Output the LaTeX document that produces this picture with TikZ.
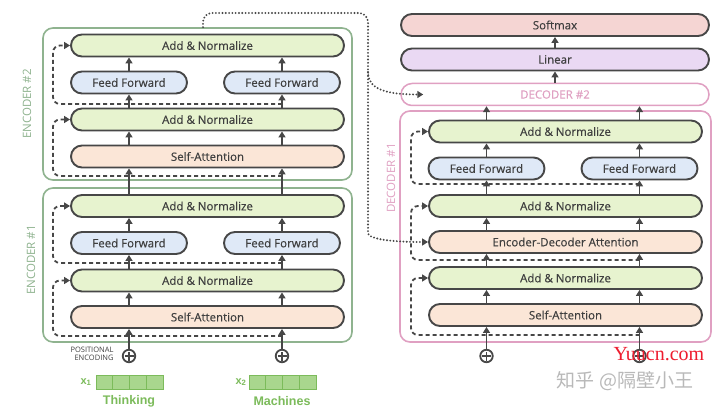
\documentclass[tikz,border=0pt]{standalone}
\usepackage{fontspec}
\setmainfont{Open Sans}
\newfontfamily\boxfont{Open Sans}[FakeBold=0.5]
\newfontfamily\wordfont{Liberation Sans}
\newfontfamily\cjkfont{Noto Sans CJK SC}
\newfontfamily\markfont{Liberation Serif}
\usetikzlibrary{arrows.meta}

\definecolor{linegray}{HTML}{474747}
\definecolor{textgray}{HTML}{3F3F3F}
\definecolor{addgreen}{HTML}{E7F3CF}
\definecolor{ffblue}{HTML}{DFE9F7}
\definecolor{attpeach}{HTML}{FBE6D7}
\definecolor{softpink}{HTML}{F5D5D3}
\definecolor{linpurple}{HTML}{EAD9F3}
\definecolor{encgreen}{HTML}{8FB38F}
\definecolor{decpink}{HTML}{E0A0C2}
\definecolor{wordgreen}{HTML}{7CBB5B}
\definecolor{cellgreen}{HTML}{A9D68E}
\definecolor{markred}{HTML}{EE1C2E}
\definecolor{markgray}{HTML}{B9B9B9}

\tikzset{
  layer/.style={draw=linegray, line width=1.9pt, rounded corners=11pt, minimum height=22pt,
    inner sep=0pt, text=textgray, font=\boxfont\fontsize{11.5}{13}\selectfont},
  addnorm/.style={layer, fill=addgreen, minimum width=273pt},
  ffwd/.style={layer, fill=ffblue, minimum width=116pt},
  selfatt/.style={layer, fill=attpeach, minimum width=273pt},
  encdec/.style={layer, fill=attpeach, minimum width=273pt},
  linear/.style={layer, fill=linpurple, minimum width=308pt},
  softmax/.style={layer, fill=softpink, minimum width=308pt},
  dsecond/.style={layer, draw=decpink, fill=white, line width=1.5pt, minimum width=308pt, text=decpink},
  encframe/.style={draw=encgreen, line width=1.6pt, rounded corners=10pt, inner sep=0pt},
  decframe/.style={draw=decpink, line width=1.6pt, rounded corners=10pt, inner sep=0pt},
  enclabel/.style={rotate=90, text=encgreen, font=\fontsize{11.5}{13}\selectfont},
  declabel/.style={rotate=90, text=decpink, font=\fontsize{11.5}{13}\selectfont},
  posenc/.style={circle, draw=linegray, line width=1.8pt, minimum size=12.5pt, inner sep=0pt, fill=white,
    path picture={\draw[linegray, line width=1.8pt] ([xshift=-4.5pt]path picture bounding box.center) -- ([xshift=4.5pt]path picture bounding box.center)
      ([yshift=-4.5pt]path picture bounding box.center) -- ([yshift=4.5pt]path picture bounding box.center);}},
  pelabel/.style={align=right, text=textgray, font=\fontsize{7.5}{8.5}\selectfont},
  xlabel/.style={text=wordgreen, font=\wordfont\bfseries\fontsize{11}{12}\selectfont},
  cell/.style={draw=wordgreen, fill=cellgreen, line width=0.9pt, minimum width=16.75pt, minimum height=14pt, inner sep=0pt},
  word/.style={text=wordgreen, font=\wordfont\bfseries\fontsize{12.5}{14}\selectfont},
  flow/.style={draw=linegray, line width=1.9pt, -{Triangle[length=6pt,width=7pt]}},
  resid/.style={draw=linegray, line width=1.8pt, dash pattern=on 4pt off 3pt, rounded corners=7pt, -{Triangle[length=6pt,width=7pt]}},
  memory/.style={draw=linegray, line width=2.1pt, line cap=round, dash pattern=on 0pt off 3.3pt, rounded corners=9pt, -{Triangle[length=6pt,width=7pt]}}
}

\begin{document}
\begin{tikzpicture}[x=1pt, y=-1pt]
\useasboundingbox[fill=white] (0,0) rectangle (720,409);

% encoder stack
\node[encframe, minimum width=309pt, minimum height=152pt] (enc2) at (197.5,104) {};
\node[encframe, minimum width=309pt, minimum height=154pt] (enc1) at (197.5,265) {};
\node[enclabel] (enc2lab) at (27,104) {ENCODER \#2};
\node[enclabel] (enc1lab) at (31,260) {ENCODER \#1};

\node[addnorm] (an2b) at (207.5,45.5) {Add \& Normalize};
\node[ffwd] (ff2l) at (129,82.5) {Feed Forward};
\node[ffwd] (ff2r) at (282,82.5) {Feed Forward};
\node[addnorm] (an2a) at (207.5,119.5) {Add \& Normalize};
\node[selfatt] (sa2) at (207.5,156.5) {Self-Attention};

\node[addnorm] (an1b) at (207.5,206) {Add \& Normalize};
\node[ffwd] (ff1l) at (129,243) {Feed Forward};
\node[ffwd] (ff1r) at (282,243) {Feed Forward};
\node[addnorm] (an1a) at (207.5,280.5) {Add \& Normalize};
\node[selfatt] (sa1) at (207.5,317) {Self-Attention};

% inputs
\node[posenc] (pe1) at (129,356) {};
\node[posenc] (pe2) at (282,356) {};
\node[pelabel, anchor=east] (pelab) at (117,354) {POSITIONAL\\ENCODING};
\node[xlabel] (x1) at (86,382) {x\textsubscript{1}};
\node[xlabel] (x2) at (241,382) {x\textsubscript{2}};
\foreach \i in {0,...,3} {
  \node[cell] (ca\i) at (104.4+\i*16.75,382) {};
  \node[cell] (cb\i) at (257.4+\i*16.75,382) {};
}
\node[word] (w1) at (129,401) {Thinking};
\node[word] (w2) at (282,401) {Machines};

% encoder flow
\draw[flow] (pe1) -- (sa1.south -| pe1); \draw[flow] (pe2) -- (sa1.south -| pe2);
\draw[flow] (sa1.north -| pe1) -- (an1a.south -| pe1); \draw[flow] (sa1.north -| pe2) -- (an1a.south -| pe2);
\draw[flow] (an1a.north -| ff1l) -- (ff1l); \draw[flow] (an1a.north -| ff1r) -- (ff1r);
\draw[flow] (ff1l) -- (an1b.south -| ff1l); \draw[flow] (ff1r) -- (an1b.south -| ff1r);
\draw[flow] (an1b.north -| ff1l) -- (sa2.south -| ff1l); \draw[flow] (an1b.north -| ff1r) -- (sa2.south -| ff1r);
\draw[flow] (sa2.north -| ff2l) -- (an2a.south -| ff2l); \draw[flow] (sa2.north -| ff2r) -- (an2a.south -| ff2r);
\draw[flow] (an2a.north -| ff2l) -- (ff2l); \draw[flow] (an2a.north -| ff2r) -- (ff2r);
\draw[flow] (ff2l) -- (an2b.south -| ff2l); \draw[flow] (ff2r) -- (an2b.south -| ff2r);

% encoder residuals
\coordinate (t1a) at (282,336); \coordinate (t1b) at (282,263);
\coordinate (t2a) at (282,176); \coordinate (t2b) at (282,104);
\draw[resid] (t1a) -- (53,336) |- (an1a.west);
\draw[resid] (t1b) -- (53,263) |- (an1b.west);
\draw[resid] (t2a) -- (53,176) |- (an2a.west);
\draw[resid] (t2b) -- (53,104) |- (an2b.west);

% decoder stack
\node[decframe, minimum width=311pt, minimum height=231pt] (dec1) at (555.5,226.5) {};
\node[declabel] (dec1lab) at (391,178) {DECODER \#1};
\node[dsecond] (dec2) at (555,94.5) {DECODER \#2};
\node[linear] (lin) at (555,59.5) {Linear};
\node[softmax] (soft) at (555,25) {Softmax};

\node[addnorm] (dan3) at (565.5,131.5) {Add \& Normalize};
\node[ffwd] (dffl) at (486.5,168.5) {Feed Forward};
\node[ffwd] (dffr) at (639.5,168.5) {Feed Forward};
\node[addnorm] (dan2) at (565.5,206) {Add \& Normalize};
\node[encdec] (eda) at (565.5,242) {Encoder-Decoder Attention};
\node[addnorm] (dan1) at (565.5,278) {Add \& Normalize};
\node[selfatt] (dsa) at (565.5,315) {Self-Attention};
\node[posenc] (pd1) at (486.5,356) {};
\node[posenc] (pd2) at (639.5,356) {};

% decoder flow
\draw[flow] (pd1) -- (dsa.south -| pd1); \draw[flow] (pd2) -- (dsa.south -| pd2);
\draw[flow] (dsa.north -| pd1) -- (dan1.south -| pd1); \draw[flow] (dsa.north -| pd2) -- (dan1.south -| pd2);
\draw[flow] (dan1.north -| pd1) -- (eda.south -| pd1); \draw[flow] (dan1.north -| pd2) -- (eda.south -| pd2);
\draw[flow] (eda.north -| pd1) -- (dan2.south -| pd1); \draw[flow] (eda.north -| pd2) -- (dan2.south -| pd2);
\draw[flow] (dan2.north -| dffl) -- (dffl); \draw[flow] (dan2.north -| dffr) -- (dffr);
\draw[flow] (dffl) -- (dan3.south -| dffl); \draw[flow] (dffr) -- (dan3.south -| dffr);
\draw[flow] (dan3.north -| dffl) -- (dec2.south -| dffl); \draw[flow] (dan3.north -| dffr) -- (dec2.south -| dffr);
\draw[flow] (dec2) -- (lin);
\draw[flow] (lin) -- (soft);

% decoder residuals
\coordinate (t3a) at (639.5,335); \coordinate (t3b) at (639.5,260); \coordinate (t3c) at (639.5,184);
\draw[resid] (t3a) -- (411,335) |- (dan1.west);
\draw[resid] (t3b) -- (411,260) |- (dan2.west);
\draw[resid] (t3c) -- (411,184) |- (dan3.west);

% encoder output to decoders
\coordinate (mem) at (368,72);
\draw[memory] ([xshift=5.5pt]enc2.north) |- (368,13) -- (mem) -- (368,224) .. controls (368,238) and (385,242) .. (eda.west);
\draw[memory] (mem) .. controls (368,88) and (383,94.5) .. ([xshift=23pt]dec2.west);

% watermarks
\node[text=markred, font=\markfont\fontsize{20}{20}\selectfont] (wm1) at (659,354) {Yuucn.com};
\node[text=markgray, font=\cjkfont\fontsize{19}{19}\selectfont] (wm2) at (625,381) {知乎 @隔壁小王};
\end{tikzpicture}
\end{document}
